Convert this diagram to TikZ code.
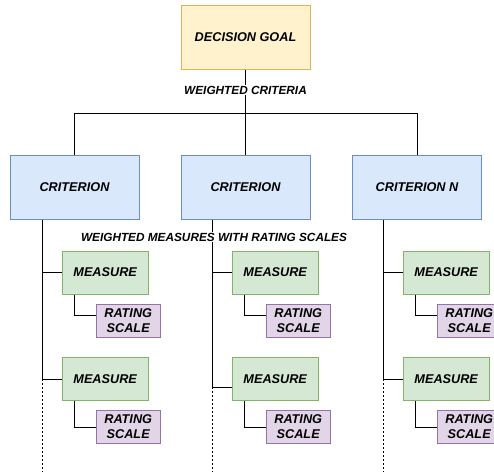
\documentclass[tikz,border=0pt]{standalone}
\usepackage{fontspec}
\setmainfont{Liberation Sans}
\definecolor{goalfill}{HTML}{FFF2CC}
\definecolor{goaldraw}{HTML}{D6B656}
\definecolor{critfill}{HTML}{DAE8FC}
\definecolor{critdraw}{HTML}{6C8EBF}
\definecolor{measfill}{HTML}{D5E8D4}
\definecolor{measdraw}{HTML}{82B366}
\definecolor{ratefill}{HTML}{E1D5E7}
\definecolor{ratedraw}{HTML}{9673A6}
\begin{document}
\begin{tikzpicture}[x=1pt,y=-1pt,
  box/.style={draw, line width=1pt, inner sep=0pt, align=center,
    font=\fontsize{12.7}{15}\selectfont\bfseries\itshape},
  goalbox/.style={box, fill=goalfill, draw=goaldraw, minimum width=129pt, minimum height=64pt},
  critbox/.style={box, fill=critfill, draw=critdraw, minimum width=129pt, minimum height=64pt},
  measbox/.style={box, fill=measfill, draw=measdraw, minimum width=86pt, minimum height=43pt},
  ratebox/.style={box, fill=ratefill, draw=ratedraw, minimum width=64pt, minimum height=33pt},
  link/.style={line width=0.9pt, draw=black},
  tail/.style={line width=0.9pt, draw=black, dash pattern=on 2pt off 2pt},
  edgelabel/.style={fill=white, inner sep=1pt, font=\fontsize{11.8}{13}\selectfont\bfseries\itshape}
]
\useasboundingbox (0,0) rectangle (494,472);
\clip (0,0) rectangle (494,472);

\coordinate (bus) at (0,113);
\coordinate (bot) at (0,472);

% top goal and criteria
\node[goalbox] (g) at (245.5,37) {DECISION GOAL};
\node[critbox] (c1) at (74.5,187) {CRITERION};
\node[critbox] (c2) at (245.5,187) {CRITERION};
\node[critbox] (c3) at (417,187) {CRITERION N};

\draw[link] (g.south) -- (g.south |- bus);
\draw[link] (c1.north) -- (c1.north |- bus) -- (c3.north |- bus) -- (c3.north);
\draw[link] (c2.north) -- (c2.north |- bus);
\node[edgelabel] (wc) at (245.5,90) {WEIGHTED CRITERIA};

% trunks of the three columns
\coordinate (k1) at (42.7,0);
\coordinate (k2) at (212.7,0);
\coordinate (k3) at (383.7,0);

\foreach \i/\dy in {1/0,2/8,3/0}{
  \path (k\i) ++(62.5,272.5) node[measbox] (m\i1) {MEASURE};
  \path (k\i) ++(62.5,379) node[measbox] (m\i2) {MEASURE};
  \path (k\i) ++(85.5,320.5) node[ratebox] (r\i1) {RATING\\SCALE};
  \path (k\i) ++(85.5,427) node[ratebox] (r\i2) {RATING\\SCALE};
  % trunk: solid down to the last measure, dashed below it
  \draw[link] (c\i.south -| k\i) |- ([yshift=-\dy pt]m\i2.west);
  \draw[tail] ([yshift=-\dy pt]m\i2.west -| k\i) -- (k\i |- bot);
  \draw[link] (m\i1.west -| k\i) -- (m\i1.west);
  % measure to rating scale
  \draw[link] ([xshift=12.5pt]m\i1.south west) |- ([yshift=5.5pt]r\i1.west);
  \draw[link] ([xshift=12.5pt]m\i2.south west) |- (r\i2.west);
}

\node[edgelabel] (wm) at (214,237) {WEIGHTED MEASURES WITH RATING SCALES};
\end{tikzpicture}
\end{document}
